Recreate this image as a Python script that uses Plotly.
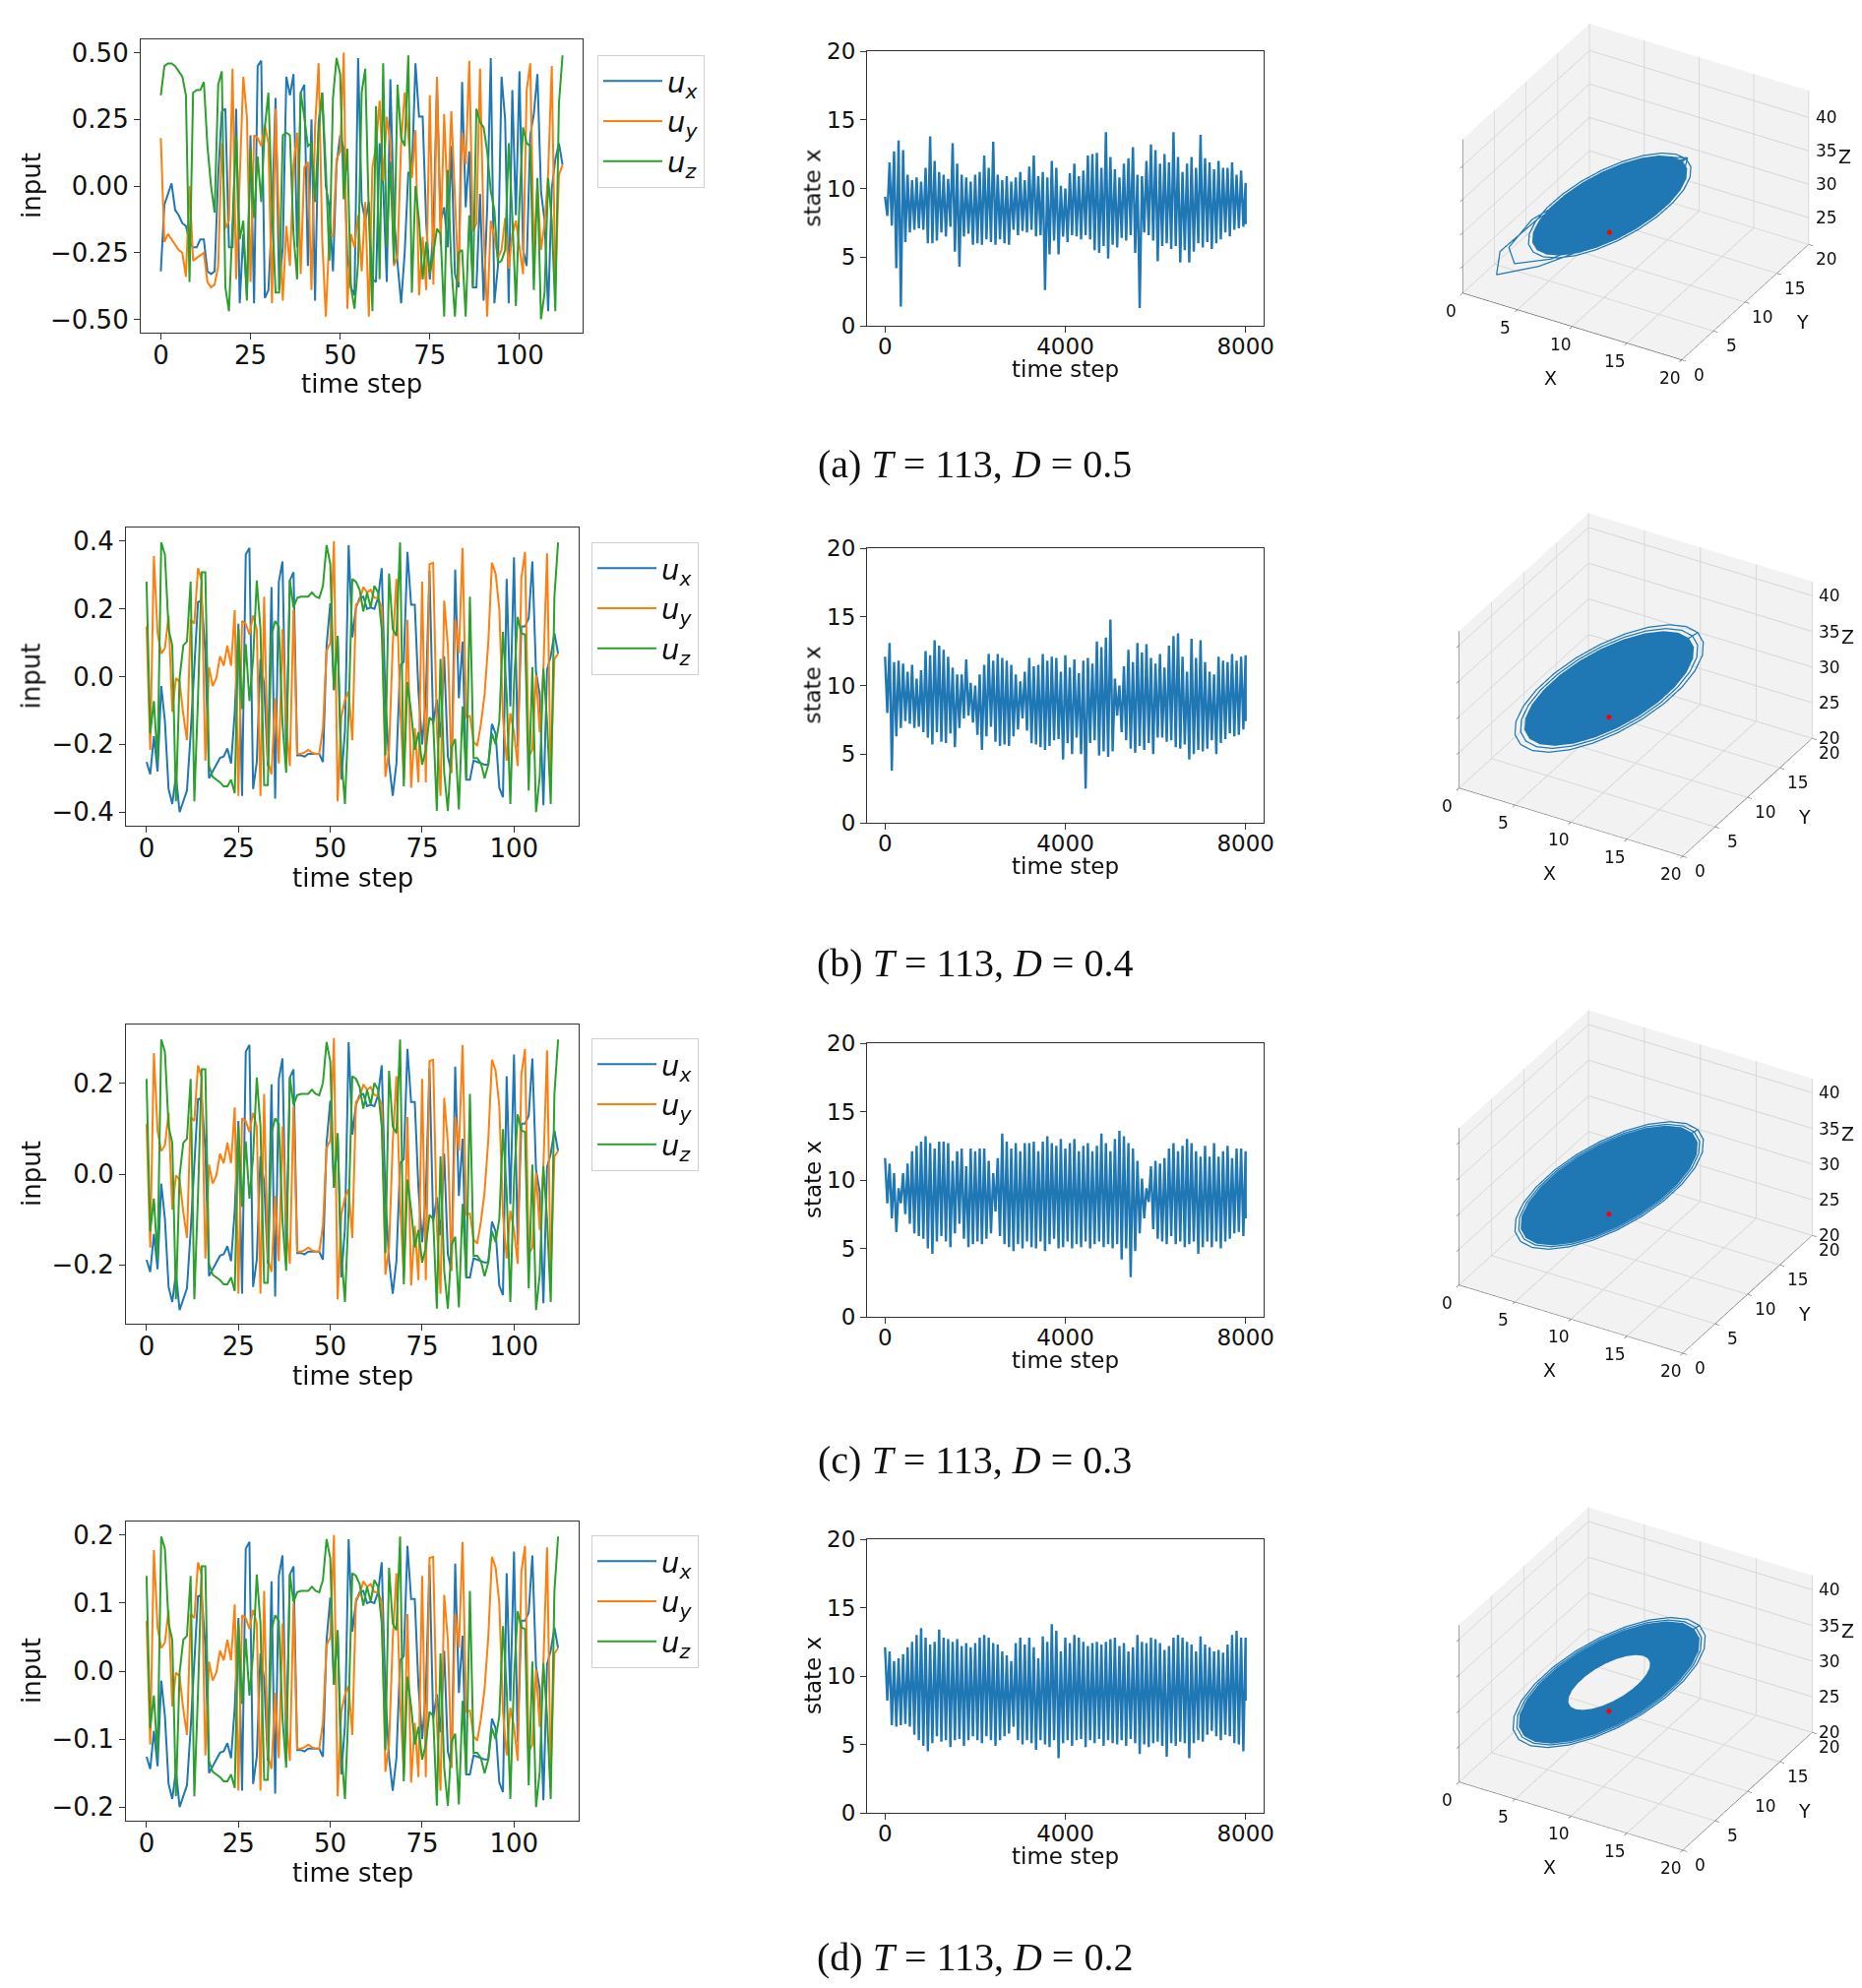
import plotly.graph_objects as go

W, H = 1892, 2020
OFF = 8  # the page body margin shifts the figure by this many pixels
BLUE, ORANGE, GREEN = '#1f77b4', '#ff7f0e', '#2ca02c'
FONT = 'DejaVu Sans'

steps = list(range(113))

# ---- (a) input signals, D = 0.5
ux_a = [-0.32, -0.07, -0.03, 0.01, -0.09, -0.11, -0.14, -0.15, -0.21, -0.23,
        -0.23, -0.20, -0.20, -0.32, -0.33, -0.32, 0.04, 0.28, 0.29, -0.23,
        -0.23, 0.29, -0.44, -0.18, -0.41, 0.19, -0.44, 0.45, 0.47, -0.42,
        -0.39, -0.11, 0.33, -0.39, -0.23, 0.41, 0.34, 0.42, -0.23, 0.35,
        0.38, -0.30, 0.25, -0.43, 0.24, 0.35, 0.00, -0.08, -0.32, 0.08,
        0.19, 0.14, -0.26, -0.38, -0.41, 0.48, -0.06, -0.13, -0.06, -0.35,
        -0.36, 0.16, 0.00, -0.36, 0.40, -0.11, -0.29, -0.44, -0.25, 0.05,
        0.05, 0.46, 0.26, 0.26, -0.14, -0.35, -0.16, 0.38, -0.13, -0.08,
        -0.23, 0.15, -0.33, -0.38, 0.39, -0.08, 0.13, -0.38, -0.38, -0.03,
        -0.43, -0.08, 0.48, -0.44, -0.30, 0.41, 0.25, -0.44, 0.36, -0.11,
        0.43, -0.24, -0.30, 0.19, 0.27, 0.42, -0.02, -0.13, -0.47, -0.01,
        0.10, 0.16, 0.08]
uy_a = [0.18, -0.21, -0.18, -0.20, -0.22, -0.24, -0.25, -0.34, 0.00, -0.28,
        -0.27, -0.26, -0.25, -0.36, -0.38, -0.37, -0.30, 0.16, -0.16, -0.13,
        0.44, -0.35, 0.05, 0.41, 0.26, -0.36, 0.19, 0.18, 0.15, 0.23,
        0.16, -0.44, 0.29, -0.16, -0.43, -0.15, -0.30, 0.08, 0.20, -0.33,
        0.07, 0.09, -0.39, 0.22, 0.46, -0.20, -0.49, -0.18, -0.19, 0.10,
        0.13, 0.50, -0.46, -0.18, -0.23, -0.11, -0.32, -0.06, -0.49, 0.07,
        0.15, 0.32, 0.02, 0.26, 0.16, -0.30, -0.26, 0.16, 0.35, 0.19,
        0.03, 0.21, -0.41, -0.19, -0.39, 0.34, -0.37, 0.41, -0.22, 0.27,
        -0.08, 0.28, -0.06, -0.36, 0.20, 0.08, 0.47, -0.17, -0.14, 0.44,
        -0.16, -0.49, -0.13, -0.19, -0.27, -0.24, -0.12, -0.31, -0.18, -0.13,
        -0.23, -0.33, 0.36, 0.46, -0.25, 0.00, -0.24, -0.14, 0.05, 0.45,
        -0.37, 0.04, 0.08]
uz_a = [0.34, 0.45, 0.46, 0.46, 0.45, 0.43, 0.41, 0.34, -0.36, 0.35,
        0.36, 0.36, 0.39, 0.15, 0.00, -0.10, 0.38, 0.43, -0.38, -0.47,
        -0.14, 0.19, -0.20, -0.13, -0.43, 0.14, -0.12, 0.11, -0.06, 0.22,
        0.35, -0.08, -0.40, -0.40, 0.19, 0.20, 0.19, -0.18, -0.35, 0.35,
        0.26, 0.15, 0.16, -0.06, 0.21, 0.35, 0.07, -0.28, 0.33, 0.48,
        0.42, -0.05, 0.14, -0.38, -0.46, -0.29, 0.35, 0.44, -0.11, -0.47,
        0.30, -0.35, 0.46, -0.23, 0.09, -0.29, 0.38, 0.18, 0.15, 0.49,
        -0.40, 0.00, -0.13, -0.35, -0.21, -0.33, -0.25, -0.16, -0.18, -0.49,
        0.06, -0.30, -0.49, -0.25, -0.24, -0.49, -0.11, -0.38, 0.29, 0.24,
        0.22, 0.13, -0.02, -0.09, -0.29, -0.28, -0.24, 0.16, -0.11, -0.45,
        -0.06, 0.22, 0.16, 0.15, -0.39, 0.03, -0.50, -0.40, 0.03, -0.13,
        -0.47, 0.31, 0.49]

# ---- (b)-(d) share one input pattern, read in units of D
ux_n = [-0.63, -0.72, -0.44, -0.70, -0.07, -0.33, -0.83, -0.94, -0.73, -1.00,
        -0.92, -0.84, -0.42, 0.08, 0.55, 0.56, 0.18, -0.75, -0.70, -0.65,
        -0.60, -0.59, -0.53, -0.64, -0.27, 0.39, -0.88, 0.90, 0.95, -0.83,
        -0.63, 0.13, -0.06, -0.66, 0.66, -0.90, 0.70, 0.85, -0.57, 0.71,
        0.77, -0.58, -0.58, -0.59, -0.57, -0.57, -0.57, -0.57, -0.63, 0.23,
        0.54, -0.10, 0.30, -0.76, -0.40, 0.97, 0.29, 0.51, 0.58, 0.59,
        0.50, 0.51, 0.50, 0.58, 0.80, -0.16, -0.64, -0.88, -0.64, 0.08,
        0.11, 0.92, 0.53, 0.53, -0.11, -0.50, -0.16, 0.78, -0.35, -0.17,
        -0.45, 0.15, -0.59, -0.71, 0.79, -0.16, 0.26, -0.76, -0.76, -0.62,
        -0.63, -0.64, -0.65, -0.65, -0.35, -0.42, -0.82, -0.89, 0.72, -0.22,
        0.88, -0.52, 0.37, 0.37, 0.43, 0.85, 0.03, -0.13, -0.95, 0.05,
        0.15, 0.32, 0.17]
uy_n = [0.37, -0.54, 0.89, 0.32, 0.17, 0.21, 0.45, -0.26, -0.01, -0.04,
        -0.28, -0.47, 0.42, 0.39, 0.80, 0.71, -0.62, 0.07, -0.07, -0.01,
        0.15, 0.08, 0.23, 0.08, 0.49, -0.88, 0.41, 0.39, 0.31, 0.45,
        0.35, -0.88, 0.59, -0.62, -0.72, -0.16, -0.64, 0.35, -0.35, -0.66,
        0.50, -0.57, -0.57, -0.56, -0.54, -0.56, -0.57, -0.57, -0.38, 0.19,
        0.25, 1.00, -0.92, -0.30, -0.17, -0.11, -0.47, 0.53, 0.56, 0.66,
        0.62, 0.64, 0.58, 0.58, 0.51, -0.74, -0.54, 0.23, 0.72, -0.21,
        -0.76, 0.42, -0.82, -0.38, -0.78, 0.70, -0.78, 0.83, 0.84, -0.38,
        -0.88, 0.56, 0.23, -0.71, 0.42, 0.17, 0.95, -0.30, -0.29, -0.48,
        -0.51, -0.35, -0.13, 0.25, 0.84, 0.76, 0.50, -0.30, -0.62, -0.27,
        -0.41, -0.66, 0.73, 0.92, -0.59, -0.54, 0.01, -0.41, 0.06, 0.91,
        -0.75, 0.13, 0.17]
uz_n = [0.70, -0.42, -0.18, -0.63, 0.99, 0.90, 0.35, 0.23, -0.92, -0.01,
        0.23, 0.26, 0.70, -0.92, -0.16, 0.77, 0.77, -0.66, -0.74, -0.76,
        -0.78, -0.81, -0.81, -0.76, -0.86, 0.35, -0.24, 0.24, -0.18, 0.13,
        0.71, 0.35, -0.80, -0.80, 0.30, 0.41, 0.37, -0.35, -0.71, 0.71,
        0.51, 0.58, 0.59, 0.59, 0.59, 0.62, 0.59, 0.58, 0.67, 0.97,
        0.83, -0.10, 0.30, -0.59, -0.94, -0.26, 0.72, 0.70, 0.64, 0.48,
        0.62, 0.51, 0.67, 0.62, 0.35, -0.58, 0.76, 0.35, 0.30, 0.99,
        -0.81, -0.04, -0.26, -0.54, -0.41, -0.65, -0.54, -0.30, -0.33, -0.99,
        0.13, -0.71, -0.99, -0.52, -0.46, -0.98, -0.22, -0.76, 0.59, -0.60,
        -0.60, -0.64, -0.75, -0.65, -0.42, -0.50, -0.33, 0.33, -0.13, -0.94,
        -0.05, 0.44, 0.32, 0.31, -0.84, 0.07, -1.00, -0.74, 0.06, -0.33,
        -0.94, 0.59, 0.99]

D_vals = [0.5, 0.4, 0.3, 0.2]
labels = ['a', 'b', 'c', 'd']

# ---- state x: successive highs / lows read every 100 steps
t_env = list(range(0, 8001, 100))
hi_a = [9.4, 11.9, 12.7, 13.5, 12.8, 11.0, 10.6, 10.8, 10.5, 11.5,
        13.8, 12.0, 11.2, 11.0, 10.7, 13.3, 11.8, 11.0, 10.8, 10.5,
        11.0, 11.2, 12.4, 11.5, 13.4, 11.0, 10.6, 10.9, 10.5, 10.8,
        11.2, 10.6, 11.6, 12.4, 10.9, 11.2, 10.8, 12.0, 11.5, 10.2,
        10.0, 11.1, 11.8, 10.9, 11.3, 12.4, 12.5, 12.6, 11.5, 14.1,
        12.3, 11.4, 10.8, 11.8, 12.2, 13.0, 11.0, 10.9, 12.0, 13.2,
        12.8, 11.8, 12.5, 11.9, 14.1, 12.3, 11.2, 11.8, 12.3, 11.5,
        13.9, 12.2, 11.9, 11.4, 12.0, 11.5, 11.5, 11.9, 11.0, 11.3,
        10.4]
lo_a = [8.0, 7.3, 4.2, 1.4, 6.1, 6.8, 7.0, 7.1, 7.0, 6.0,
        6.0, 6.2, 6.8, 6.5, 7.2, 5.4, 4.3, 6.5, 6.7, 5.9,
        6.0, 5.9, 6.3, 6.1, 5.9, 6.3, 6.0, 5.9, 7.0, 6.6,
        6.9, 6.8, 7.0, 6.5, 6.6, 2.6, 5.2, 6.2, 5.2, 6.5,
        6.1, 6.6, 6.5, 6.3, 6.6, 6.3, 5.5, 5.3, 5.8, 4.9,
        5.9, 5.7, 6.4, 6.2, 6.6, 5.3, 1.3, 6.8, 6.6, 6.2,
        4.7, 5.8, 6.0, 5.6, 5.8, 4.6, 5.5, 4.6, 5.4, 6.0,
        5.7, 6.1, 5.6, 6.0, 6.3, 6.8, 6.5, 7.0, 7.1, 7.2,
        7.4]
hi_b = [12.1, 13.1, 11.7, 11.8, 11.6, 11.0, 11.5, 10.5, 11.1, 12.5,
        12.2, 13.3, 12.9, 12.6, 12.1, 11.3, 10.8, 10.8, 11.9, 10.2,
        10.0, 10.8, 11.5, 12.3, 11.8, 12.3, 12.0, 11.8, 11.5, 10.8,
        10.3, 11.0, 12.0, 11.4, 11.5, 12.3, 11.8, 12.1, 12.0, 11.0,
        12.2, 11.3, 11.9, 10.9, 11.8, 12.0, 11.6, 13.2, 12.8, 13.5,
        14.8, 10.5, 10.0, 11.4, 12.6, 11.7, 13.1, 12.4, 13.0, 12.0,
        11.6, 12.3, 11.3, 12.9, 13.6, 13.8, 12.1, 11.0, 13.4, 12.0,
        13.3, 11.7, 11.0, 10.8, 12.1, 11.8, 11.7, 12.3, 11.8, 12.1,
        12.2]
lo_b = [8.0, 3.8, 6.3, 6.9, 7.4, 7.2, 6.9, 7.0, 6.6, 6.2,
        5.7, 6.6, 5.9, 5.8, 6.5, 5.5, 6.9, 7.6, 7.8, 7.3,
        6.4, 5.3, 6.3, 7.0, 5.9, 5.6, 5.7, 5.6, 6.3, 6.8,
        7.6, 6.7, 5.8, 5.7, 5.5, 5.3, 5.6, 6.0, 6.1, 4.6,
        5.8, 5.0, 6.2, 5.0, 2.5, 5.8, 6.0, 4.9, 5.2, 4.8,
        5.2, 7.8, 6.6, 6.0, 5.4, 5.1, 5.6, 5.3, 5.8, 5.0,
        6.2, 6.2, 5.9, 6.0, 5.5, 5.4, 5.7, 4.6, 5.0, 5.3,
        5.2, 5.4, 6.0, 5.0, 5.8, 6.1, 6.5, 6.3, 6.4, 6.8,
        7.4]
hi_c = [11.6, 11.2, 10.5, 9.4, 10.5, 11.2, 12.1, 12.5, 12.8, 13.2,
        12.7, 12.3, 12.8, 12.8, 12.7, 11.4, 12.1, 12.3, 11.0, 12.3,
        12.1, 12.3, 12.3, 11.4, 10.5, 11.6, 13.4, 12.8, 12.3, 12.7,
        12.1, 12.7, 12.7, 12.8, 12.1, 12.8, 13.2, 12.7, 12.5, 13.0,
        12.3, 12.7, 13.0, 12.1, 12.5, 12.7, 12.1, 12.5, 13.4, 12.7,
        12.1, 13.0, 13.6, 13.2, 12.7, 12.3, 11.4, 10.1, 9.4, 11.0,
        11.4, 11.2, 11.6, 12.3, 12.7, 12.1, 12.5, 13.0, 12.7, 12.1,
        11.7, 12.5, 11.7, 12.7, 11.7, 12.1, 12.5, 11.6, 12.3, 12.3,
        12.1]
lo_c = [8.3, 7.2, 6.2, 8.3, 7.5, 6.8, 6.1, 5.9, 5.7, 5.0,
        4.6, 5.5, 5.9, 5.5, 5.1, 6.1, 6.8, 5.7, 5.1, 5.3,
        5.5, 5.3, 5.7, 6.1, 7.7, 5.9, 5.3, 5.1, 4.8, 5.3,
        5.0, 5.5, 5.1, 5.0, 5.5, 4.8, 5.3, 5.7, 5.0, 5.1,
        5.5, 5.0, 5.3, 5.1, 5.5, 5.0, 5.3, 5.5, 5.1, 5.3,
        5.0, 5.3, 4.2, 5.0, 2.9, 4.8, 6.1, 7.2, 8.4, 6.4,
        5.7, 5.5, 5.3, 5.9, 5.3, 5.5, 5.1, 5.3, 5.5, 4.6,
        5.1, 5.5, 5.1, 5.5, 5.0, 5.5, 5.7, 6.1, 6.2, 5.9,
        7.2]
hi_d = [12.1, 11.8, 11.1, 11.3, 11.6, 12.1, 12.5, 13.0, 13.5, 12.8,
        12.3, 12.5, 13.4, 12.8, 12.7, 12.5, 12.7, 12.2, 12.4, 12.1,
        12.4, 12.8, 13.0, 12.8, 12.4, 12.3, 11.8, 11.5, 11.1, 12.4,
        12.8, 12.3, 12.8, 12.1, 11.3, 12.9, 12.5, 13.8, 13.3, 11.8,
        12.8, 12.4, 13.0, 12.8, 12.5, 12.2, 12.4, 12.5, 12.3, 12.5,
        12.7, 12.8, 12.2, 12.4, 11.8, 12.1, 13.0, 12.5, 12.4, 12.8,
        12.7, 12.4, 11.9, 12.2, 12.8, 13.0, 12.8, 12.5, 12.3, 11.8,
        12.9, 12.3, 12.1, 11.8, 11.9, 11.7, 12.3, 13.0, 13.3, 12.8,
        12.8]
lo_d = [8.2, 6.4, 6.3, 6.4, 6.5, 6.3, 5.7, 5.3, 4.9, 4.5,
        5.1, 5.6, 5.2, 5.3, 4.8, 5.3, 5.4, 4.9, 5.3, 5.6,
        5.3, 5.1, 5.6, 5.3, 4.9, 5.3, 5.6, 5.8, 6.3, 5.3,
        5.0, 5.3, 5.1, 4.6, 5.3, 5.0, 4.8, 5.3, 4.0, 5.1,
        5.3, 4.9, 5.3, 5.4, 4.8, 5.3, 5.1, 5.4, 4.9, 5.3,
        5.1, 5.0, 5.3, 4.9, 5.4, 5.1, 4.3, 5.0, 4.8, 5.1,
        5.2, 4.9, 4.1, 5.1, 4.9, 5.2, 5.1, 4.0, 5.1, 5.3,
        5.2, 5.7, 6.0, 5.6, 5.3, 5.7, 5.6, 5.1, 5.0, 4.5,
        8.2]
state_env = [(hi_a, lo_a), (hi_b, lo_b), (hi_c, lo_c), (hi_d, lo_d)]

# ---- 3D trajectory: loop shape around the centre, loop sizes per panel
loop_dx = [1.0, 0.966, 0.866, 0.707, 0.5, 0.259, 0.0, -0.259, -0.5, -0.707, -0.866, -0.966,
           -1.0, -0.966, -0.866, -0.707, -0.5, -0.259, 0.0, 0.259, 0.5, 0.707, 0.866, 0.966]
loop_dy = [1.009, 0.711, 0.364, -0.007, -0.378, -0.723, -1.019, -1.245, -1.387, -1.433, -1.383, -1.239,
           -1.009, -0.711, -0.364, 0.007, 0.378, 0.723, 1.019, 1.245, 1.387, 1.433, 1.383, 1.239]
loop_dz = [1.213, 1.612, 1.900, 2.060, 2.079, 1.956, 1.700, 1.328, 0.865, 0.344, -0.200, -0.732,
           -1.213, -1.612, -1.900, -2.060, -2.079, -1.956, -1.700, -1.328, -0.865, -0.344, 0.200, 0.732]
centre = (8.5, 8.5, 31.0)
fixed_pt = (8.485, 8.485, 27.0)
ring_sizes = [[0.9, 1.6, 2.4, 3.0, 3.6, 4.1, 4.4],
              [0.9, 1.7, 2.4, 3.1, 3.7, 4.3, 4.7, 5.0],
              [1.0, 1.8, 2.6, 3.3, 3.9, 4.4, 4.8, 5.0],
              [2.2, 2.6, 3.1, 3.7, 4.2, 4.6, 4.9, 5.1]]
fill_sizes = [(0.0, 4.2), (0.0, 4.5), (0.0, 4.7), (2.2, 4.8)]
# wide excursions seen in panel (a)
ex1_x = [8.5, 6.0, 3.3, 2.0, 3.3, 6.0, 8.5, 10.3, 11.5, 12.0, 11.8, 10.5, 8.5]
ex1_y = [4.4, 1.6, 0.2, 1.9, 6.3, 10.4, 12.6, 13.4, 13.3, 12.0, 9.9, 7.0, 4.4]
ex1_z = [36.4, 33.8, 28.7, 23.1, 21.2, 22.1, 25.6, 29.0, 32.3, 35.2, 37.5, 38.1, 36.4]
ex2_x = [13.0, 12.4, 10.5, 8.5, 5.8, 3.7, 3.0, 4.2, 6.5, 8.5, 10.3, 12.0, 13.0]
ex2_y = [13.0, 10.1, 7.0, 3.9, 0.9, 0.9, 3.0, 6.7, 10.0, 12.1, 13.4, 14.0, 13.0]
ex2_z = [36.5, 38.8, 38.1, 37.1, 34.1, 28.9, 24.3, 22.4, 23.9, 26.3, 29.0, 32.5, 36.5]
xy_ticks = [0, 5, 10, 15, 20]
z_ticks = [[25, 30, 35, 40], [20, 25, 30, 35, 40], [20, 25, 30, 35, 40], [20, 25, 30, 35, 40]]
z_ranges = [(21, 44), (20, 42), (20, 42), (20, 42)]

# ---- page geometry (pixels)
left_x = [(143, 592), (128, 588), (128, 588), (128, 588)]
left_y = [(40, 338), (536, 839), (1041, 1345), (1546, 1850)]
mid_x = (881, 1284)
mid_y = [(52, 331), (557, 836), (1060, 1338), (1564, 1842)]
scene_x = (1436, 1888)
scene_y = [(8, 395), (505, 900), (1010, 1405), (1515, 1910)]
legend_pos = [(607, 56), (601, 551), (601, 1055), (601, 1560)]
caption_y = [472, 978, 1483, 1988]
left_tlabel_y = [390, 892, 1398, 1903]
mid_tlabel_y = [375, 880, 1382, 1886]

ytick_vals = [[-0.5, -0.25, 0, 0.25, 0.5], [-0.4, -0.2, 0, 0.2, 0.4],
              [-0.2, 0, 0.2], [-0.2, -0.1, 0, 0.1, 0.2]]
ytick_text = [['−0.50', '−0.25', '0.00', '0.25', '0.50'], ['−0.4', '−0.2', '0.0', '0.2', '0.4'],
              ['−0.2', '0.0', '0.2'], ['−0.2', '−0.1', '0.0', '0.1', '0.2']]


def dx(a, b):
    return [max(0, (a - OFF) / W), min(1, (b - OFF) / W)]


def dy(a, b):
    return [max(0, 1 - (b - OFF) / H), min(1, 1 - (a - OFF) / H)]


def label(text, x, y, size, angle=0, family=FONT):
    return dict(text=text, x=(x - OFF) / W, y=1 - (y - OFF) / H, xref='paper', yref='paper',
                xanchor='center', yanchor='middle', textangle=angle, showarrow=False,
                font=dict(family=family, size=size, color='#111'))


fig = go.Figure()
layout = dict(width=W, height=H, margin=dict(l=0, r=0, t=0, b=0, autoexpand=False),
              paper_bgcolor='white', plot_bgcolor='white', annotations=[])

axis_common = dict(showline=True, linecolor='#333', linewidth=1.2, mirror=True,
                   ticks='outside', ticklen=6, tickcolor='#333', showgrid=False,
                   zeroline=False)

for r in range(4):
    D = D_vals[r]
    if r == 0:
        series = [ux_a, uy_a, uz_a]
    else:
        series = [[v * D for v in ux_n], [v * D for v in uy_n], [v * D for v in uz_n]]
    la = 2 * r + 1
    ma = 2 * r + 2
    leg = 'legend' if r == 0 else 'legend%d' % (r + 1)
    names = ['<i>u</i><sub><i>x</i></sub>', '<i>u</i><sub><i>y</i></sub>', '<i>u</i><sub><i>z</i></sub>']
    for s, col, nm in zip(series, [BLUE, ORANGE, GREEN], names):
        fig.add_trace(go.Scatter(x=steps, y=s, mode='lines', name=nm,
                                 line=dict(color=col, width=2),
                                 xaxis='x%d' % la, yaxis='y%d' % la, legend=leg))

    # state x band: alternate the highs and lows that were read
    hi, lo = state_env[r]
    xs, ys = [], []
    for k in range(len(t_env)):
        xs += [t_env[k], min(t_env[k] + 50, 8000)]
        ys += [hi[k], lo[k]]
    fig.add_trace(go.Scatter(x=xs, y=ys, mode='lines', showlegend=False,
                             line=dict(color=BLUE, width=2.4),
                             xaxis='x%d' % ma, yaxis='y%d' % ma))

    yr = 1.1 * D
    layout['xaxis%d' % la] = dict(axis_common, domain=dx(*left_x[r]), range=[-5.6, 117.6],
                                  tickvals=[0, 25, 50, 75, 100], anchor='y%d' % la,
                                  ticklabelstandoff=-6,
                                  tickfont=dict(family=FONT, size=26, color='#111'))
    layout['yaxis%d' % la] = dict(axis_common, domain=dy(*left_y[r]), range=[-yr, yr],
                                  tickvals=ytick_vals[r], ticktext=ytick_text[r],
                                  anchor='x%d' % la,
                                  tickfont=dict(family=FONT, size=26, color='#111'))
    layout['xaxis%d' % ma] = dict(axis_common, domain=dx(*mid_x), range=[-400, 8400],
                                  tickvals=[0, 4000, 8000], anchor='y%d' % ma,
                                  ticklabelstandoff=-6,
                                  tickfont=dict(family=FONT, size=23, color='#111'))
    layout['yaxis%d' % ma] = dict(axis_common, domain=dy(*mid_y[r]), range=[0, 20],
                                  tickvals=[0, 5, 10, 15, 20], anchor='x%d' % ma,
                                  tickfont=dict(family=FONT, size=23, color='#111'))

    lx, ly = legend_pos[r]
    layout[leg] = dict(x=(lx - OFF) / W, y=1 - (ly - OFF) / H, xanchor='left', yanchor='top',
                       bgcolor='white', bordercolor='#d0d0d0', borderwidth=1,
                       font=dict(family=FONT, size=29, color='#111'), itemwidth=60,
                       tracegroupgap=4)

    ann = layout['annotations']
    ann.append(label('input', 32, sum(left_y[r]) / 2, 26, angle=-90))
    ann.append(label('time step', sum(left_x[r]) / 2, left_tlabel_y[r], 26))
    ann.append(label('state x', 826, sum(mid_y[r]) / 2, 23, angle=-90))
    ann.append(label('time step', sum(mid_x) / 2, mid_tlabel_y[r], 23))
    ann.append(label('(%s) <i>T</i> = 113, <i>D</i> = %s' % (labels[r], D), 990, caption_y[r], 40,
                     family='Liberation Serif'))

    # 3D trajectory
    sc = 'scene' if r == 0 else 'scene%d' % (r + 1)
    cx, cy, cz = centre
    a_in, a_out = fill_sizes[r]
    n = len(loop_dx)
    vx = [cx + a_in * d for d in loop_dx] + [cx + a_out * d for d in loop_dx]
    vy = [cy + a_in * d for d in loop_dy] + [cy + a_out * d for d in loop_dy]
    vz = [cz + a_in * d for d in loop_dz] + [cz + a_out * d for d in loop_dz]
    ii, jj, kk = [], [], []
    for q in range(n):
        q2 = (q + 1) % n
        ii += [q, q2]
        jj += [q2, n + q2]
        kk += [n + q, n + q]
    fig.add_trace(go.Mesh3d(x=vx, y=vy, z=vz, i=ii, j=jj, k=kk, color=BLUE, opacity=1,
                            flatshading=True, hoverinfo='skip', scene=sc,
                            lighting=dict(ambient=1, diffuse=0, specular=0, fresnel=0, roughness=1)))
    tx, ty, tz = [], [], []
    for A in ring_sizes[r]:
        tx += [cx + A * d for d in loop_dx] + [cx + A * loop_dx[0]]
        ty += [cy + A * d for d in loop_dy] + [cy + A * loop_dy[0]]
        tz += [cz + A * d for d in loop_dz] + [cz + A * loop_dz[0]]
    if r == 0:
        tx += ex1_x + ex2_x
        ty += ex1_y + ex2_y
        tz += ex1_z + ex2_z
    fig.add_trace(go.Scatter3d(x=tx, y=ty, z=tz, mode='lines', showlegend=False,
                               line=dict(color=BLUE, width=2.5), scene=sc))
    fig.add_trace(go.Scatter3d(x=[fixed_pt[0]], y=[fixed_pt[1]], z=[fixed_pt[2]], mode='markers',
                               showlegend=False, marker=dict(color='red', size=3), scene=sc))

    zlo, zhi = z_ranges[r]
    tf = dict(family=FONT, size=17, color='#111')
    ttl = dict(family=FONT, size=19, color='#111')
    s_ann = []
    for v in xy_ticks:
        s_ann.append(dict(x=v, y=0, z=zlo, text=str(v), showarrow=False, font=tf,
                          xshift=-12, yshift=-18))
        s_ann.append(dict(x=20, y=v, z=zlo, text=str(v), showarrow=False, font=tf,
                          xshift=18, yshift=-15))
    for v in z_ticks[r]:
        s_ann.append(dict(x=20, y=20, z=v, text=str(v), showarrow=False, font=tf,
                          xanchor='left', xshift=5))
    s_ann.append(dict(x=10, y=0, z=zlo, text='X', showarrow=False, font=ttl, xshift=-22, yshift=-52))
    s_ann.append(dict(x=20, y=10, z=zlo, text='Y', showarrow=False, font=ttl, xshift=58, yshift=-20))
    s_ann.append(dict(x=20, y=20, z=34.2, text='Z', showarrow=False, font=ttl,
                      xanchor='left', xshift=28))

    ax3 = dict(backgroundcolor='rgb(242,242,242)', showbackground=True, gridcolor='rgb(214,214,214)',
               zeroline=False, showline=True, linecolor='#333', ticks='outside', tickcolor='#333',
               showspikes=False, showticklabels=False, title=dict(text=''))
    layout[sc] = dict(
        domain=dict(x=dx(*scene_x), y=dy(*scene_y[r])),
        xaxis=dict(ax3, range=[0, 20], tickvals=xy_ticks),
        yaxis=dict(ax3, range=[0, 20], tickvals=xy_ticks),
        zaxis=dict(ax3, range=[zlo, zhi], tickvals=z_ticks[r]),
        aspectmode='manual', aspectratio=dict(x=1.33, y=1.33, z=0.95),
        camera=dict(eye=dict(x=0.55, y=-0.95, z=0.64), center=dict(x=0, y=0, z=-0.04),
                    projection=dict(type='orthographic')),
        annotations=s_ann,
        bgcolor='white')

fig.update_layout(**layout)
fig.write_html('out.html')
